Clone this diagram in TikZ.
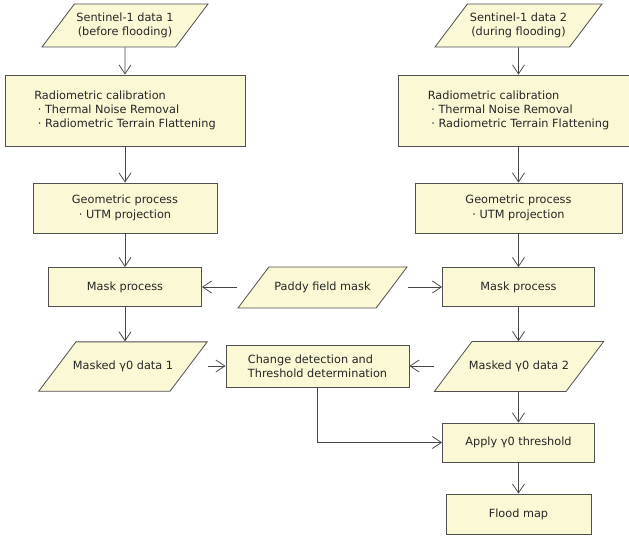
\documentclass[tikz,border=0pt]{standalone}
\usepackage{fontspec}
\setmainfont{DejaVu Sans}
\usepackage{tikz}
\usetikzlibrary{arrows.meta, shapes.geometric, positioning}

\definecolor{flowfill}{RGB}{251,248,213}
\definecolor{flowdraw}{RGB}{80,80,80}
\definecolor{flowline}{RGB}{70,70,70}

\begin{document}
\begin{tikzpicture}[
  x=1pt, y=-1pt,
  every node/.style = {font=\fontsize{11.3}{14.3}\selectfont, text=black!85},
  procbox/.style = {rectangle, draw=flowdraw, fill=flowfill,
                    line width=0.8pt, minimum width=#1,
                    minimum height=39pt, align=center},
  iobox/.style   = {trapezium, trapezium left angle=53,
                    trapezium right angle=127, trapezium stretches body,
                    draw=flowdraw, fill=flowfill, line width=0.8pt,
                    minimum width=#1, text height=8.6pt, text depth=2.7pt,
                    inner xsep=2pt, align=center},
  arr/.style = {-{Straight Barb[length=9pt, width=12pt]},
                line width=0.8pt, flowline},
]
\useasboundingbox (0,0) rectangle (629,537);

%% ── Inputs ────────────────────────────────────────────────────────────────
\node[iobox=166, text height=22.9pt, inner ysep=8.7pt] at (125, 25.5) (data1)
  {Sentinel-1 data 1\\(before flooding)};
\node[iobox=167, text height=22.9pt, inner ysep=8.7pt] at (518.5, 25.5) (data2)
  {Sentinel-1 data 2\\(during flooding)};

%% ── Radiometric calibration ───────────────────────────────────────────────
\node[procbox=240, minimum height=71pt, align=left] at (125, 110.5) (radio1) {
  Radiometric calibration\\
  \ · Thermal Noise Removal\\
  \ · Radiometric Terrain Flattening
};
\node[procbox=240, minimum height=71pt, align=left] at (518.5, 110.5) (radio2) {
  Radiometric calibration\\
  \ · Thermal Noise Removal\\
  \ · Radiometric Terrain Flattening
};

%% ── Geometric process ─────────────────────────────────────────────────────
\node[procbox=184, minimum height=50pt] at (125, 208) (geo1)
  {Geometric process\\· UTM projection};
\node[procbox=207, minimum height=50pt] at (518.5, 208) (geo2)
  {Geometric process\\· UTM projection};

%% ── Masking ───────────────────────────────────────────────────────────────
\node[procbox=153] at (125, 287) (mask1) {Mask process};
\node[iobox=169, inner ysep=14.8pt] at (322.5, 287.5) (paddy) {Paddy field mask};
\node[procbox=152] at (518.5, 287) (mask2) {Mask process};

%% ── Masked data and change detection ──────────────────────────────────────
\node[iobox=158, inner ysep=19pt, inner xsep=-3pt] at (123, 366.5) (masked1)
  {Masked γ0 data 1};
\node[procbox=183, minimum height=42pt, align=left] at (317.5, 366) (change)
  {Change detection and\\Threshold determination};
\node[iobox=157, inner ysep=19.3pt, inner xsep=-3pt] at (519, 366.5) (masked2)
  {Masked γ0 data 2};

%% ── Output ────────────────────────────────────────────────────────────────
\node[procbox=152] at (518.5, 442.5) (apply) {Apply γ0 threshold};
\node[procbox=145, minimum height=40pt] at (518.5, 514) (flood) {Flood map};

%% ── Arrows ────────────────────────────────────────────────────────────────
\draw[arr] (data1)  -- (radio1);
\draw[arr] (radio1) -- (geo1);
\draw[arr] (geo1)   -- (mask1);
\draw[arr] (mask1)  -- (masked1.north -| mask1);
\draw[arr] (data2)  -- (radio2);
\draw[arr] (radio2) -- (geo2);
\draw[arr] (geo2)   -- (mask2);
\draw[arr] (mask2)  -- (masked2.north -| mask2);
\draw[arr] (masked2.south -| apply) -- (apply);
\draw[arr] (apply)  -- (flood);

\draw[arr] (paddy.bottom left corner |- mask1.east) -- (mask1.east);
\draw[arr] (paddy.top right corner |- mask2.west)   -- (mask2.west);
\draw[arr] (masked1.top right corner |- change.west) -- (change.west);
\draw[arr] (masked2.bottom left corner |- change.east) -- (change.east);
\draw[arr] (change.south) |- (apply.west);

\end{tikzpicture}
\end{document}
